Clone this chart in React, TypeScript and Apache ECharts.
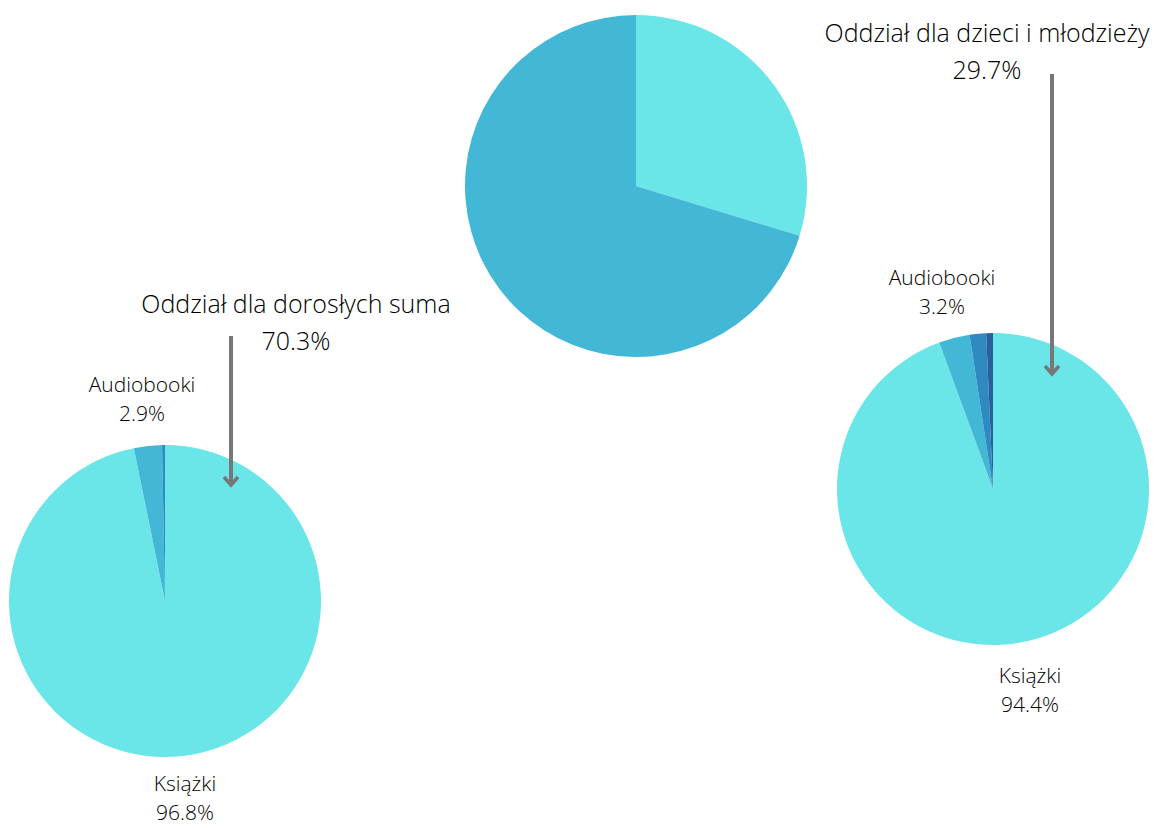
import React, { useEffect, useRef } from "react";
import * as echarts from "echarts";

const sumNames = ["Oddział dla dzieci i młodzieży", "Oddział dla dorosłych suma"];
const sumValues = [29.7, 70.3];

const adultNames = ["Książki", "Audiobooki", "Inne"];
const adultValues = [96.8, 2.9, 0.3];

const childNames = ["Książki", "Audiobooki", "Inne", "Pozostałe"];
const childValues = [94.4, 3.2, 1.7, 0.7];

const FONT = "Open Sans";
const C1 = "#6ae5e8";
const C2 = "#43b7d6";
const C3 = "#2f8ac2";
const C4 = "#2d5e9c";

// label anchor positions (center x, middle y) per series / data index
const labelPos: Record<string, [number, number]> = {
  "0-0": [987, 50],
  "0-1": [296, 321],
  "1-0": [185, 797],
  "1-1": [142, 398],
  "2-0": [1030, 689],
  "2-1": [942, 291],
};

export default function App() {
  const ref = useRef<HTMLDivElement>(null);
  useEffect(() => {
    if (!ref.current) return;
    const chart = echarts.init(ref.current, null, { renderer: "svg" });
    const mk = (names: string[], values: number[], colors: string[], labelled: number) =>
      names.map((n, i) => ({
        name: n,
        value: values[i],
        itemStyle: { color: colors[i] },
        label: { show: i < labelled },
      }));
    const bigLabel = {
      show: true,
      position: "outside",
      formatter: "{b}\n{c}%",
      fontFamily: FONT,
      fontSize: 25,
      fontWeight: 300,
      lineHeight: 37,
      color: "#000",
    };
    const smallLabel = {
      show: true,
      position: "outside",
      formatter: "{b}\n{c}%",
      fontFamily: FONT,
      fontSize: 21,
      fontWeight: 300,
      lineHeight: 29,
      color: "#000",
    };
    const layout = (p: any) => {
      const key = p.seriesIndex + "-" + p.dataIndex;
      const pos = labelPos[key];
      if (!pos) return {};
      return { x: pos[0], y: pos[1], align: "center", verticalAlign: "middle" };
    };
    chart.setOption({
      animation: false,
      backgroundColor: "#ffffff",
      series: [
        {
          type: "pie",
          center: [636, 186],
          radius: [0, 171],
          startAngle: 90,
          clockwise: true,
          avoidLabelOverlap: false,
          label: bigLabel,
          labelLine: { show: false },
          labelLayout: layout,
          emphasis: { disabled: true },
          data: mk(sumNames, sumValues, [C1, C2], 2),
        },
        {
          type: "pie",
          center: [165, 601],
          radius: [0, 156],
          startAngle: 90,
          clockwise: true,
          avoidLabelOverlap: false,
          label: smallLabel,
          labelLine: { show: false },
          labelLayout: layout,
          emphasis: { disabled: true },
          data: mk(adultNames, adultValues, [C1, C2, C3], 2),
        },
        {
          type: "pie",
          center: [993, 489],
          radius: [0, 156],
          startAngle: 90,
          clockwise: true,
          avoidLabelOverlap: false,
          label: smallLabel,
          labelLine: { show: false },
          labelLayout: layout,
          emphasis: { disabled: true },
          data: mk(childNames, childValues, [C1, C2, C3, C4], 2),
        },
      ],
      graphic: [
        { type: "line", z: 100, shape: { x1: 231, y1: 336, x2: 231, y2: 485 }, style: { stroke: "#777", lineWidth: 4 } },
        { type: "polyline", z: 100, shape: { points: [[224, 477], [231, 485], [238, 477]] }, style: { stroke: "#777", lineWidth: 3.5, fill: null } },
        { type: "line", z: 100, shape: { x1: 1052, y1: 74, x2: 1052, y2: 374 }, style: { stroke: "#777", lineWidth: 4 } },
        { type: "polyline", z: 100, shape: { points: [[1045, 366], [1052, 374], [1059, 366]] }, style: { stroke: "#777", lineWidth: 3.5, fill: null } },
      ],
    });
    return () => chart.dispose();
  }, []);
  return (
    <div
      ref={ref}
      style={{ position: "fixed", left: 0, top: 0, width: 1157, height: 828, background: "#fff" }}
    />
  );
}
